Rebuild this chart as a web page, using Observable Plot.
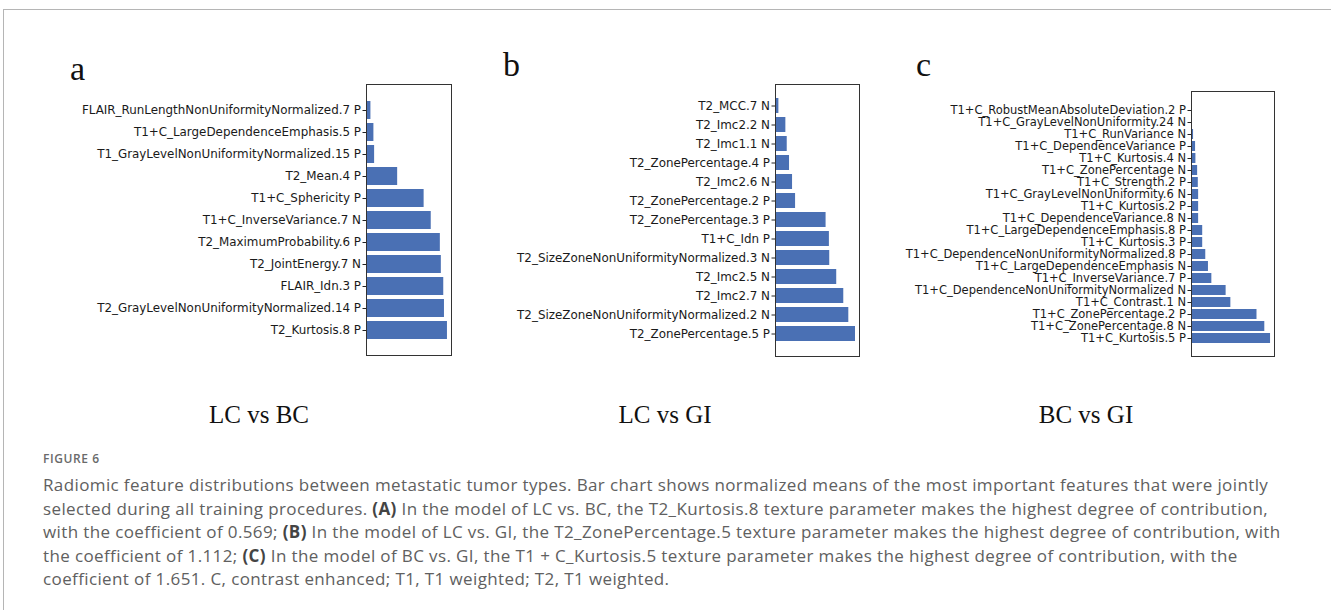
<!DOCTYPE html>
<html>
<head>
<meta charset="utf-8">
<script src="https://cdn.jsdelivr.net/npm/d3@7"></script>
<script src="https://cdn.jsdelivr.net/npm/@observablehq/plot@0.6"></script>
<style>
  html, body { margin: 0; padding: 0; background: #fff; }
  #wrap { position: relative; width: 1331px; height: 610px; overflow: hidden; }
  #border { position: absolute; left: 3px; top: 9px; right: -2px; bottom: -2px; border-top: 1px solid #b5b5b5; border-left: 1px solid #b5b5b5; }
  .panel { position: absolute; }
  .letter { position: absolute; font-family: "Liberation Serif", serif; font-size: 34px; color: #111; line-height: 1; }
  .sub { position: absolute; font-family: "Liberation Serif", serif; font-size: 25px; color: #111; width: 300px; text-align: center; line-height: 1; }
  #caption { position: absolute; left: 43px; top: 450px; font-family: "Open Sans", sans-serif; color: #606060; }
  #caption .fig { font-size: 12px; font-weight: 600; letter-spacing: 0.6px; line-height: 18px; margin-bottom: 5px; color: #6a6a6a; }
  #caption .line { font-size: 17px; letter-spacing: 0.38px; line-height: 23.5px; white-space: nowrap; }
  #caption b { color: #444; }
</style>
</head>
<body>
<div id="wrap">
  <div id="border"></div>
  <div class="letter" style="left:70px; top:52px;">a</div>
  <div class="letter" style="left:503px; top:48px;">b</div>
  <div class="letter" style="left:916px; top:48px;">c</div>
  <div id="pa" class="panel" style="left:60px; top:80px;"></div>
  <div id="pb" class="panel" style="left:500px; top:80px;"></div>
  <div id="pc" class="panel" style="left:890px; top:87px;"></div>
  <div class="sub" style="left:109px; top:402px;">LC vs BC</div>
  <div class="sub" style="left:515px; top:402px;">LC vs GI</div>
  <div class="sub" style="left:936px; top:402px;">BC vs GI</div>
  <div id="caption">
    <div class="fig">FIGURE 6</div>
    <div class="line">Radiomic feature distributions between metastatic tumor types. Bar chart shows normalized means of the most important features that were jointly</div>
    <div class="line">selected during all training procedures. <b>(A)</b> In the model of LC vs. BC, the T2_Kurtosis.8 texture parameter makes the highest degree of contribution,</div>
    <div class="line">with the coefficient of 0.569; <b>(B)</b> In the model of LC vs. GI, the T2_ZonePercentage.5 texture parameter makes the highest degree of contribution, with</div>
    <div class="line">the coefficient of 1.112; <b>(C)</b> In the model of BC vs. GI, the T1 + C_Kurtosis.5 texture parameter makes the highest degree of contribution, with the</div>
    <div class="line">coefficient of 1.651. C, contrast enhanced; T1, T1 weighted; T2, T1 weighted.</div>
  </div>
</div>
<script>
// Panel a: LC vs BC (top to bottom)
const featuresA = [
  "FLAIR_RunLengthNonUniformityNormalized.7 P",
  "T1+C_LargeDependenceEmphasis.5 P",
  "T1_GrayLevelNonUniformityNormalized.15 P",
  "T2_Mean.4 P",
  "T1+C_Sphericity P",
  "T1+C_InverseVariance.7 N",
  "T2_MaximumProbability.6 P",
  "T2_JointEnergy.7 N",
  "FLAIR_Idn.3 P",
  "T2_GrayLevelNonUniformityNormalized.14 P",
  "T2_Kurtosis.8 P"
];
const valuesA = [0.031, 0.052, 0.057, 0.219, 0.405, 0.455, 0.519, 0.526, 0.543, 0.548, 0.569];

// Panel b: LC vs GI
const featuresB = [
  "T2_MCC.7 N",
  "T2_Imc2.2 N",
  "T2_Imc1.1 N",
  "T2_ZonePercentage.4 P",
  "T2_Imc2.6 N",
  "T2_ZonePercentage.2 P",
  "T2_ZonePercentage.3 P",
  "T1+C_Idn P",
  "T2_SizeZoneNonUniformityNormalized.3 N",
  "T2_Imc2.5 N",
  "T2_Imc2.7 N",
  "T2_SizeZoneNonUniformityNormalized.2 N",
  "T2_ZonePercentage.5 P"
];
const valuesB = [0.047, 0.144, 0.163, 0.195, 0.237, 0.279, 0.703, 0.749, 0.754, 0.851, 0.949, 1.019, 1.112];

// Panel c: BC vs GI
const featuresC = [
  "T1+C_RobustMeanAbsoluteDeviation.2 P",
  "T1+C_GrayLevelNonUniformity.24 N",
  "T1+C_RunVariance N",
  "T1+C_DependenceVariance P",
  "T1+C_Kurtosis.4 N",
  "T1+C_ZonePercentage N",
  "T1+C_Strength.2 P",
  "T1+C_GrayLevelNonUniformity.6 N",
  "T1+C_Kurtosis.2 P",
  "T1+C_DependenceVariance.8 N",
  "T1+C_LargeDependenceEmphasis.8 P",
  "T1+C_Kurtosis.3 P",
  "T1+C_DependenceNonUniformityNormalized.8 P",
  "T1+C_LargeDependenceEmphasis N",
  "T1+C_InverseVariance.7 P",
  "T1+C_DependenceNonUniformityNormalized N",
  "T1+C_Contrast.1 N",
  "T1+C_ZonePercentage.2 P",
  "T1+C_ZonePercentage.8 N",
  "T1+C_Kurtosis.5 P"
];
const valuesC = [0.014, 0.021, 0.043, 0.085, 0.092, 0.128, 0.142, 0.149, 0.149, 0.149, 0.234, 0.234, 0.298, 0.354, 0.425, 0.723, 0.822, 1.368, 1.531, 1.651];

function panel(features, values, opts) {
  const data = features.map((f, i) => ({feature: f, value: values[i]}));
  const n = features.length;
  const max = d3.max(values);
  return Plot.plot({
    width: opts.width,
    height: opts.height,
    marginLeft: opts.marginLeft,
    marginRight: 6,
    marginTop: 4,
    marginBottom: 4,
    style: {fontFamily: "DejaVu Sans, sans-serif", fontSize: opts.fontSize + "px", color: "#1a1a1a", background: "transparent"},
    x: {domain: [0, max * 1.05], axis: null},
    y: {domain: features, paddingInner: 0.2, paddingOuter: 0.05 * (n - 0.2), axis: null},
    marks: [
      Plot.barX(data, {x: "value", y: "feature", fill: "#4a70b4"}),
      Plot.axisY({label: null, tickSize: 3.5, tickPadding: 2, fontSize: opts.fontSize, stroke: "#222", fill: "#1a1a1a"}),
      Plot.frame({stroke: "#333", strokeWidth: 1})
    ]
  });
}

document.getElementById("pa").append(panel(featuresA, valuesA, {width: 397, height: 279, marginLeft: 306, fontSize: 11.9}));
document.getElementById("pb").append(panel(featuresB, valuesB, {width: 365, height: 280, marginLeft: 275, fontSize: 11.9}));
document.getElementById("pc").append(panel(featuresC, valuesC, {width: 390, height: 273, marginLeft: 301, fontSize: 11.5}));
</script>
</body>
</html>
